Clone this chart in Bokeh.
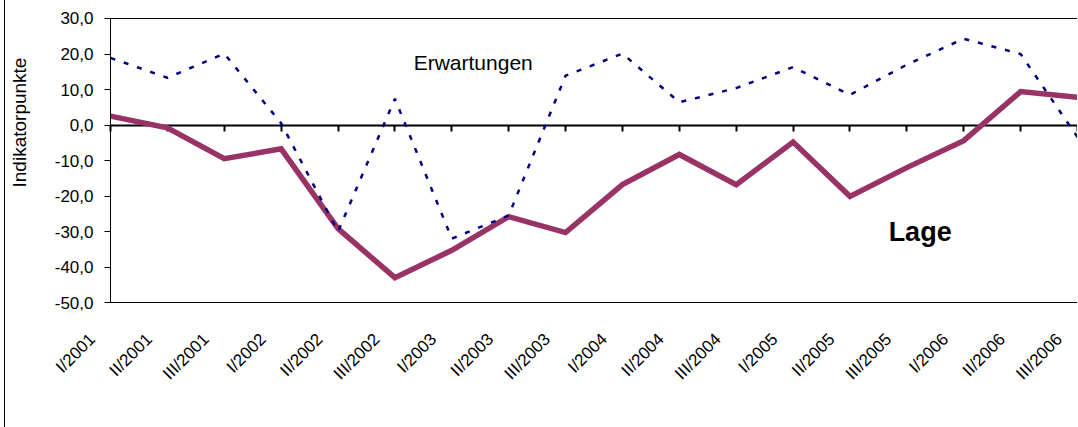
from math import pi
from bokeh.plotting import figure
from bokeh.models import Range1d, LinearAxis, FixedTicker, Label, BoxAnnotation
from bokeh.embed import file_html
from bokeh.resources import INLINE

quarters = ["I/2001", "II/2001", "III/2001", "I/2002", "II/2002", "III/2002",
            "I/2003", "II/2003", "III/2003", "I/2004", "II/2004", "III/2004",
            "I/2005", "II/2005", "III/2005", "I/2006", "II/2006", "III/2006"]
lage = [2.5, -0.8, -9.5, -6.7, -29.2, -43.0, -35.3, -25.8, -30.3,
        -16.8, -8.3, -16.8, -4.8, -20.1, -12.0, -4.4, 9.4, 7.8]
erwartungen = [18.9, 13.3, 20.1, 0.5, -30.0, 7.4, -32.0, -25.5, 13.9,
               20.1, 6.4, 10.4, 16.3, 8.5, 17.0, 24.3, 20.0, -3.4]
y_ticks = [-50, -40, -30, -20, -10, 0, 10, 20, 30]
y_tick_labels = ["-50,0", "-40,0", "-30,0", "-20,0", "-10,0", "0,0", "10,0", "20,0", "30,0"]

FONT = "Liberation Sans"
idx = list(range(len(quarters)))
x_start, x_end = -1.846, 17.018
y_min, y_max = -50, 30
lab_shift = 0.32  # category labels sit a little left of their tick

p = figure(width=1073, height=427, output_backend="svg", toolbar_location=None,
           x_range=Range1d(x_start, x_end), y_range=Range1d(-52.25, 35.07),
           x_axis_location=None,
           min_border_left=0, min_border_right=0, min_border_top=0, min_border_bottom=117)
p.styles = {"margin-left": "4px", "border-left": "1px solid black"}
p.grid.visible = False
p.outline_line_color = None
p.background_fill_color = "white"
p.border_fill_color = "white"

# plot-area border
p.add_layout(BoxAnnotation(left=0, right=x_end, top=y_max, bottom=y_min,
                           fill_alpha=0, fill_color=None,
                           line_color="black", line_alpha=1, line_width=1))

# y axis, placed at the first category
ya = p.yaxis[0]
ya.fixed_location = 0
ya.bounds = (y_min, y_max)
ya.ticker = FixedTicker(ticks=y_ticks)
ya.major_label_overrides = dict(zip(y_ticks, y_tick_labels))
ya.major_tick_out = 6
ya.major_tick_in = 0
ya.minor_tick_line_color = None
ya.axis_line_color = "black"
ya.major_tick_line_color = "black"
ya.major_label_text_font = FONT
ya.major_label_text_font_size = "17px"
ya.major_label_text_color = "black"
ya.major_label_standoff = 11

# category axis crossing at zero (line + ticks)
za = LinearAxis(fixed_location=0, bounds=(0, x_end), ticker=FixedTicker(ticks=idx),
                major_label_overrides={i: "" for i in idx},
                axis_line_color="black", axis_line_width=2,
                major_tick_line_color="black", major_tick_line_width=2,
                major_tick_out=6, major_tick_in=0, minor_tick_line_color=None,
                level="underlay")
p.add_layout(za, "below")

# category labels at the bottom
p.extra_x_ranges = {"lab": Range1d(x_start + lab_shift, x_end + lab_shift)}
xa = LinearAxis(x_range_name="lab", ticker=FixedTicker(ticks=idx),
                major_label_overrides={i: q for i, q in zip(idx, quarters)},
                major_label_orientation=pi / 4,
                axis_line_color=None, major_tick_line_color=None, minor_tick_line_color=None,
                major_label_text_font=FONT, major_label_text_font_size="17px",
                major_label_text_color="black", major_label_standoff=20)
p.add_layout(xa, "below")

# series
p.line(idx, lage, line_color="#993366", line_width=5.5, line_join="miter")
p.line(idx, erwartungen, line_color="#000080", line_width=2.5, line_dash="5 9")

p.add_layout(Label(x=5.33, y=17.7, text="Erwartungen", text_font=FONT,
                   text_font_size="21px", text_color="black", text_baseline="alphabetic"))
p.add_layout(Label(x=13.68, y=-30.2, text="Lage", text_font=FONT, text_font_style="bold",
                   text_font_size="27px", text_color="black", text_baseline="alphabetic"))
p.add_layout(Label(x=-1.6, y=0.7, text="Indikatorpunkte", angle=pi / 2, text_font=FONT,
                   text_font_size="19px", text_color="black",
                   text_align="center", text_baseline="middle"))

open("out.html", "w").write(file_html(p, INLINE))
